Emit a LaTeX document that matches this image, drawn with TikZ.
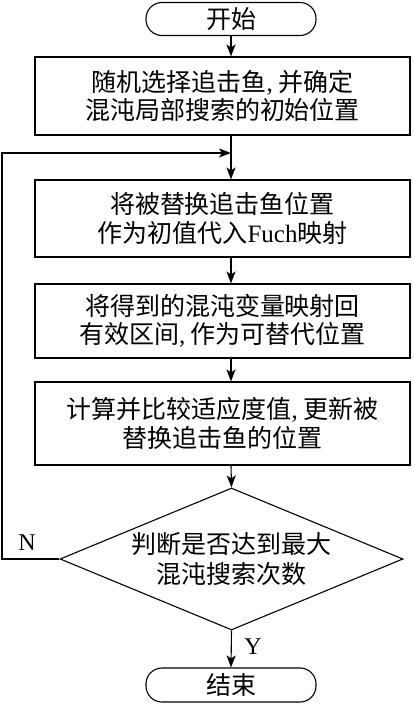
\documentclass[tikz,border=0pt]{standalone}
\usepackage{fontspec}
\setmainfont{Liberation Serif}
\newfontfamily\cjk{Noto Sans CJK SC}
\usetikzlibrary{shapes.geometric,arrows.meta}
\newcommand{\cm}{{\rmfamily,} }
\begin{document}
\begin{tikzpicture}[x=1pt,y=-1pt,line width=1.1pt,
  txt/.style={font=\cjk\fontsize{25}{28.5}\selectfont, align=center},
  proc/.style={txt, draw, minimum width=375pt, inner sep=0pt},
  term/.style={txt, draw, rounded corners=16pt, minimum width=170pt, minimum height=33pt, inner sep=0pt},
  decision/.style={txt, draw, diamond, aspect=2.4, minimum width=343pt, minimum height=142pt, inner sep=0pt},
  arr/.style={-{Stealth[length=12pt,width=9pt,inset=3pt]}},
  lbl/.style={font=\fontsize{24}{24}\selectfont}]
\useasboundingbox (0,0) rectangle (413,705);
\node[term] (start) at (231,19) {开始};
\node[proc, minimum height=78pt] (b1) at (222.5,96) {随机选择追击鱼\cm 并确定\\混沌局部搜索的初始位置};
\coordinate (m) at (231,153);
\coordinate (lc) at (2,153);
\node[proc, minimum height=77pt] (b2) at (222.5,218.5) {将被替换追击鱼位置\\作为初值代入{\rmfamily Fuch}映射};
\node[proc, minimum height=74pt] (b3) at (222.5,321) {将得到的混沌变量映射回\\有效区间\cm 作为可替代位置};
\node[proc, minimum height=83pt] (b4) at (222.5,423.5) {计算并比较适应度值\cm 更新被\\替换追击鱼的位置};
\node[decision] (dec) at (231.5,559) {\raisebox{-3pt}{\shortstack{判断是否达到最大\\[3pt]混沌搜索次数}}};
\node[term, minimum height=34pt] (end) at (231,685) {结束};
\draw[arr] (start.south) -- (start.south |- b1.north);
\draw (b1.south -| start) -- (m);
\draw[arr] (m) -- (b2.north -| start);
\draw[arr] (b2.south -| start) -- (b3.north -| start);
\draw[arr] (b3.south -| start) -- (b4.north -| start);
\draw[arr] (b4.south -| start) -- (dec.north);
\draw[arr] (dec.south) -- (end.north);
\draw[arr] (dec.west) -| (lc) -- (m);
\node[lbl] (n) at (27,543) {N};
\node[lbl] (y) at (253,647) {Y};
\end{tikzpicture}
\end{document}
